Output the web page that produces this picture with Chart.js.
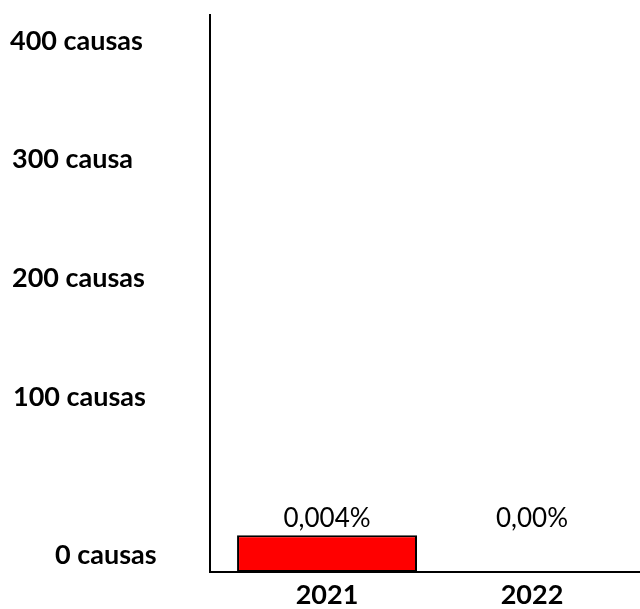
<!DOCTYPE html>
<html>
<head>
<meta charset="utf-8">
<script src="https://cdn.jsdelivr.net/npm/chart.js@4/dist/chart.umd.min.js"></script>
<style>
html,body{margin:0;padding:0;background:#fff;}
canvas{display:block;}
</style>
</head>
<body>
<canvas id="c" width="640" height="609"></canvas>
<script>
// ---- data ----
const categories = ['2021', '2022'];
const barValues = [27.8, 0];
const barLabels = ['0,004%', '0,00%'];
const yTickLabels = ['0 causas', '100 causas', '200 causas', '300 causa', '400 causas'];
const yTickAnchors = [12.8, 131.7, 221.3, 310.9, 400.4];
const yMax = 420;

// ---- layout constants (not data) ----
const yLabelLeft = [55, 13, 12, 12, 10];

const yLabelPlugin = {
  id: 'yLabels',
  afterDraw(chart) {
    const ctx = chart.ctx;
    const y = chart.scales.y;
    ctx.save();
    ctx.font = 'bold 27px Lato';
    ctx.fillStyle = '#000';
    ctx.textAlign = 'left';
    ctx.textBaseline = 'middle';
    yTickLabels.forEach((t, i) => {
      ctx.fillText(t, yLabelLeft[i], y.getPixelForValue(yTickAnchors[i]));
    });
    ctx.restore();
  }
};

const barLabelPlugin = {
  id: 'barLabels',
  afterDatasetsDraw(chart) {
    const ctx = chart.ctx;
    const meta = chart.getDatasetMeta(0);
    const y = chart.scales.y;
    const top = y.getPixelForValue(Math.max(...barValues));
    ctx.save();
    ctx.font = '26px Lato';
    ctx.fillStyle = '#000';
    ctx.textAlign = 'center';
    ctx.textBaseline = 'bottom';
    meta.data.forEach((el, i) => {
      ctx.fillText(barLabels[i], el.x, top - 4);
    });
    ctx.restore();
  }
};

new Chart(document.getElementById('c'), {
  type: 'bar',
  data: {
    datasets: [{
      data: categories.map((c, i) => ({ x: i, y: barValues[i] })),
      backgroundColor: '#FF0000',
      borderColor: '#000000',
      borderWidth: 2,
      borderSkipped: false,
      categoryPercentage: 1,
      barPercentage: 0.878
    }]
  },
  options: {
    responsive: false,
    animation: false,
    events: [],
    layout: { padding: { left: 202, top: 15, right: 0, bottom: -10 } },
    plugins: { legend: { display: false }, tooltip: { enabled: false } },
    scales: {
      x: {
        type: 'linear',
        offset: false,
        min: -0.571,
        max: 1.527,
        grid: { display: false, drawTicks: false, offset: false },
        border: { display: true, color: '#000', width: 2 },
        afterBuildTicks: (scale) => { scale.ticks = categories.map((c, i) => ({ value: i })); },
        ticks: {
          color: '#000',
          font: { family: 'Lato', weight: 'bold', size: 27, lineHeight: 1 },
          padding: 10,
          autoSkip: false,
          maxRotation: 0,
          callback: (v) => categories[v]
        }
      },
      y: {
        min: 0,
        max: yMax,
        grid: { display: false },
        border: { display: true, color: '#000', width: 2 },
        ticks: { display: false }
      }
    }
  },
  plugins: [yLabelPlugin, barLabelPlugin]
});
</script>
</body>
</html>
